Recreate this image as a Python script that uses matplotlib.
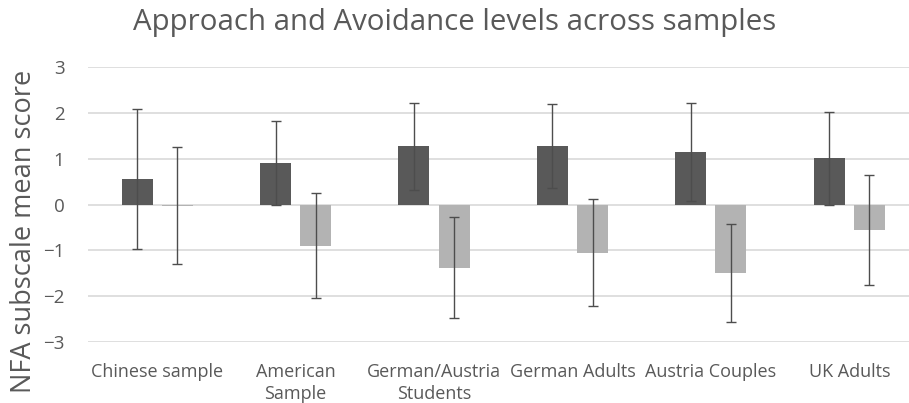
import numpy as np
import matplotlib.pyplot as plt

plt.rcParams['font.family'] = ['Open Sans', 'DejaVu Sans']

samples = ['Chinese sample', 'American\nSample', 'German/Austria\nStudents',
           'German Adults', 'Austria Couples', 'UK Adults']
approach = [0.55, 0.90, 1.27, 1.28, 1.14, 1.01]
approach_err = [1.53, 0.92, 0.96, 0.92, 1.07, 1.01]
avoidance = [-0.03, -0.90, -1.38, -1.05, -1.49, -0.55]
avoidance_err = [1.28, 1.15, 1.11, 1.17, 1.07, 1.20]

text_col = '#595959'
fig = plt.figure(figsize=(9.09, 4.03), dpi=100)
# right edge of the plot area runs past the figure, so the last gridlines get cut
ax = fig.add_axes([88 / 909, 61.3 / 403, 830.5 / 909, 274.4 / 403])

x = np.arange(len(samples))
w = 0.224
off = 0.145
ax.bar(x - off, approach, w, color='#595959', zorder=2)
ax.bar(x + off, avoidance, w, color='#b3b3b3', zorder=2)
ax.errorbar(x - off, approach, yerr=approach_err, fmt='none', ecolor='#4d4d4d',
            elinewidth=1, capsize=3.5, capthick=1, zorder=3)
ax.errorbar(x + off, avoidance, yerr=avoidance_err, fmt='none', ecolor='#4d4d4d',
            elinewidth=1, capsize=3.5, capthick=1, zorder=3)

ax.set_xlim(-0.5, len(samples) - 0.5)
ax.set_ylim(-3, 3)
ax.set_yticks(range(-3, 4))
ax.set_xticks(x)
ax.set_xticklabels(samples, fontsize=13, color=text_col, linespacing=1.3)
ax.tick_params(axis='y', labelsize=13.5, colors=text_col, length=0, pad=17)
ax.tick_params(axis='x', length=0, pad=15)
ax.grid(axis='y', color='#d9d9d9', linewidth=1.2, zorder=0)
ax.set_axisbelow(True)
for s in ax.spines.values():
    s.set_visible(False)

ax.set_ylabel('NFA subscale mean score', fontsize=19.5, color=text_col)
ax.yaxis.set_label_coords(-0.060, 0.403)
fig.text(0.5, 0.943, 'Approach and Avoidance levels across samples',
         fontsize=21.2, color=text_col, ha='center', va='center')

fig.savefig('out.png', dpi=100)
